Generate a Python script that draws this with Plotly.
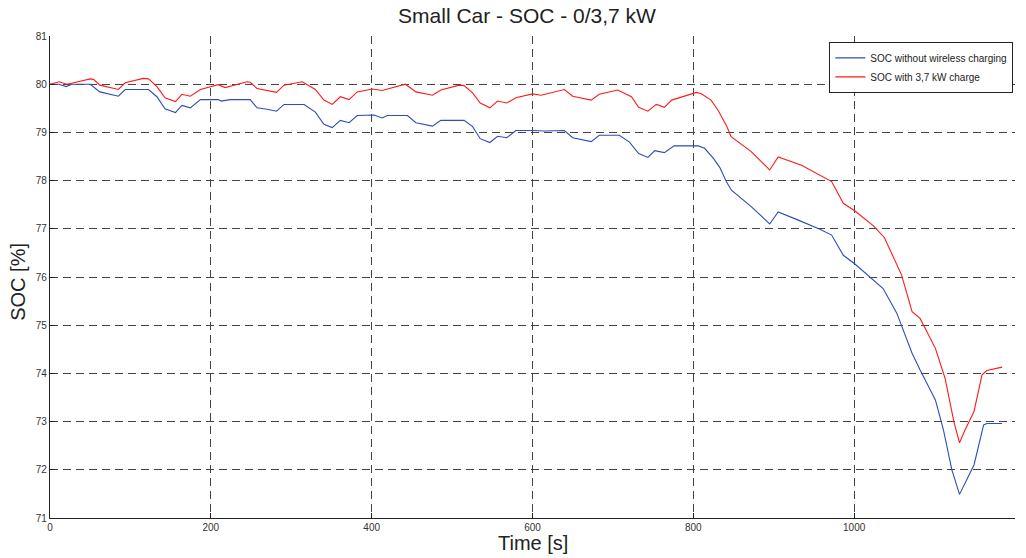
import plotly.graph_objects as go

# Time axis [s] and SOC [%] readings
t_blue = [0, 11, 20, 27, 50, 62, 85, 93.5, 122.5, 133, 143, 156, 164, 174.5, 187, 209, 213, 224, 249,
          257.5, 270, 281.6, 291, 316, 330, 340.6, 351, 361, 372, 382, 403, 413, 419.5, 444.5,
          455, 475.6, 486, 515, 525.5, 535, 547, 556.6, 568, 579.4, 600, 614.7, 639.6, 650, 673,
          683, 708, 720.6, 732, 743.5, 752, 764, 776, 806, 814, 824.5, 833, 841, 847.4, 872,
          895, 905.5, 930.5, 957.4, 972, 986.5, 1001, 1017.5, 1036, 1053, 1072, 1082, 1101,
          1111, 1121.5, 1131, 1142, 1149, 1161, 1165, 1184]
soc_blue = [80.0, 80.0, 79.95, 80.0, 80.0, 79.84, 79.75, 79.89, 79.89, 79.74, 79.49, 79.41, 79.56,
            79.51, 79.68, 79.68, 79.65, 79.68, 79.68, 79.51, 79.48, 79.44, 79.58, 79.58, 79.42,
            79.17, 79.1, 79.25, 79.2, 79.35, 79.36, 79.3, 79.35, 79.35, 79.2, 79.13, 79.25,
            79.25, 79.12, 78.87, 78.79, 78.92, 78.89, 79.04, 79.04, 79.03, 79.04, 78.89, 78.81,
            78.94, 78.94, 78.8, 78.56, 78.48, 78.62, 78.58, 78.72, 78.72, 78.67, 78.47, 78.27,
            77.98, 77.8, 77.46, 77.1, 77.35, 77.18, 76.99, 76.87, 76.45, 76.27, 76.03, 75.76,
            75.25, 74.42, 74.07, 73.45, 72.83, 72.0, 71.49, 71.86, 72.1, 72.93, 72.96, 72.96]

t_red = [0, 11.6, 20.8, 27, 50, 54, 62, 85, 93.5, 116, 122.5, 133, 143, 156, 164, 174.5, 187, 209,
         218, 245, 249, 257.5, 281.6, 291, 313.6, 330, 340.6, 351, 361, 372, 382, 401, 413, 442,
         455, 475.6, 486, 509, 515, 525.5, 535, 547, 556.6, 568, 579.4, 600, 610.6, 639.6, 650,
         673, 683, 706, 723, 732, 743.5, 754, 764, 773, 804, 810, 822, 830.7, 841, 847, 872,
         895, 905.5, 934.6, 972, 986.5, 1001, 1024, 1037.5, 1051, 1059, 1072, 1082, 1101, 1113,
         1124, 1131, 1138, 1149, 1159, 1165, 1184]
soc_red = [80.0, 80.05, 80.0, 80.02, 80.11, 80.1, 79.98, 79.89, 80.03, 80.12, 80.11, 79.95, 79.72,
           79.64, 79.79, 79.75, 79.89, 79.99, 79.93, 80.05, 80.04, 79.91, 79.83, 79.98, 80.05,
           79.89, 79.67, 79.58, 79.74, 79.68, 79.84, 79.9, 79.87, 80.0, 79.84, 79.77, 79.88,
           79.98, 79.97, 79.82, 79.61, 79.51, 79.65, 79.61, 79.72, 79.8, 79.77, 79.89, 79.75,
           79.67, 79.79, 79.88, 79.74, 79.52, 79.44, 79.58, 79.52, 79.67, 79.83, 79.8, 79.67,
           79.46, 79.15, 78.91, 78.6, 78.22, 78.49, 78.32, 77.98, 77.53, 77.37, 77.06, 76.82,
           76.33, 76.04, 75.28, 75.14, 74.52, 73.9, 73.0, 72.56, 72.83, 73.21, 73.97, 74.06, 74.13]

x_ticks = [0, 200, 400, 600, 800, 1000, 1200]
y_ticks = [71, 72, 73, 74, 75, 76, 77, 78, 79, 80, 81]

FONT = "Liberation Sans, Arial, sans-serif"

fig = go.Figure()
fig.add_trace(go.Scatter(x=t_blue, y=soc_blue, mode="lines", name="SOC without wireless charging",
                         line=dict(color="#2a4fb5", width=1.1)))
fig.add_trace(go.Scatter(x=t_red, y=soc_red, mode="lines", name="SOC with 3,7 kW charge",
                         line=dict(color="#ff1a1a", width=1.1)))

axis_common = dict(
    showgrid=True, gridcolor="#444444", gridwidth=1, griddash="8px,5px",
    showline=True, linecolor="#222222", linewidth=1.3,
    ticks="inside", ticklen=5, tickcolor="#222222",
    tickfont=dict(family=FONT, size=10, color="#333333"),
    zeroline=False, automargin=False,
)

fig.update_layout(
    width=1026, height=558,
    paper_bgcolor="white", plot_bgcolor="white",
    margin=dict(l=50, r=11, t=36, b=40, autoexpand=False),
    title=dict(text="Small Car - SOC - 0/3,7 kW", xref="container", x=527 / 1026, xanchor="center",
               y=1 - 16 / 558, yanchor="middle",
               font=dict(family=FONT, size=21, color="#222222")),
    xaxis=dict(range=[0, 1200], tickvals=x_ticks, **axis_common),
    yaxis=dict(range=[71, 81], tickvals=y_ticks, **axis_common),
    legend=dict(x=0.998, xanchor="right", y=0.9875, yanchor="top",
                bgcolor="white", bordercolor="#222222", borderwidth=1.3,
                font=dict(family=FONT, size=10, color="#222222"),
                tracegroupgap=0, itemwidth=30),
    showlegend=True,
    annotations=[
        dict(text="Time [s]", xref="paper", yref="paper", x=0.5, y=-25 / 482,
             xanchor="center", yanchor="middle", showarrow=False,
             font=dict(family=FONT, size=20, color="#222222")),
        dict(text="SOC [%]", xref="paper", yref="paper", x=-32 / 965, y=0.49,
             xanchor="center", yanchor="middle", textangle=-90, showarrow=False,
             font=dict(family=FONT, size=20, color="#222222")),
    ],
)

fig.write_html("out.html", config={"displayModeBar": False},
               post_script="document.body.style.margin='0';document.body.style.overflow='hidden';")
